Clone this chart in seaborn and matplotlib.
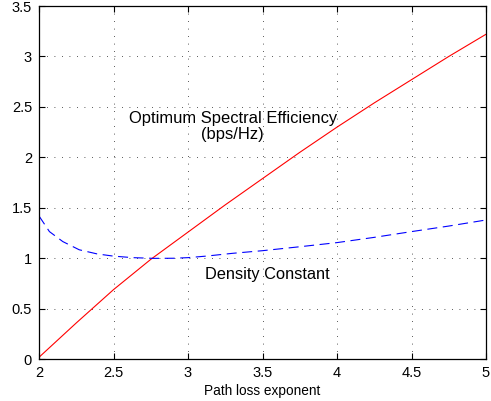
import numpy as np
import pandas as pd
import seaborn as sns
import matplotlib
matplotlib.use("Agg")
import matplotlib.pyplot as plt

# values
red_x = [2.0, 2.25, 2.5, 2.75, 3.0, 3.25, 3.5, 3.75, 4.0, 4.25, 4.5, 4.75, 5.0]
spectral_eff = [0.02, 0.36, 0.69, 0.99, 1.26, 1.53, 1.79, 2.05, 2.30, 2.54, 2.77, 3.00, 3.22]

blue_x = [2.0, 2.07, 2.16, 2.27, 2.39, 2.5, 2.63, 2.77, 2.9, 3.0, 3.12, 3.3, 3.5,
          3.75, 4.0, 4.25, 4.5, 4.75, 5.0]
density_const = [1.42, 1.265, 1.166, 1.085, 1.044, 1.022, 1.007, 1.0, 1.001, 1.007,
                 1.022, 1.05, 1.076, 1.115, 1.156, 1.208, 1.265, 1.32, 1.38]

x_ticks = [2, 2.5, 3, 3.5, 4, 4.5, 5]
y_ticks = [0, 0.5, 1, 1.5, 2, 2.5, 3, 3.5]
tick_labels_x = ["2", "2.5", "3", "3.5", "4", "4.5", "5"]
tick_labels_y = ["0", "0.5", "1", "1.5", "2", "2.5", "3", "3.5"]

sns.set_style("ticks")
plt.rcParams['font.family'] = ['Liberation Sans', 'DejaVu Sans']
plt.rcParams['text.color'] = 'black'
plt.rcParams['axes.labelcolor'] = 'black'

fig = plt.figure(figsize=(4.91, 4.01), dpi=100)
ax = fig.add_axes([39 / 491, 1 - 359.3 / 401, 447 / 491, 353.3 / 401])

red_df = pd.DataFrame({"x": red_x, "y": spectral_eff})
blue_df = pd.DataFrame({"x": blue_x, "y": density_const})

sns.lineplot(data=red_df, x="x", y="y", ax=ax, color="#ff0000", linewidth=0.8)
sns.lineplot(data=blue_df, x="x", y="y", ax=ax, color="#0000ff", linewidth=0.8,
             linestyle=(0, (9, 5)))

ax.set_xlim(2, 5)
ax.set_ylim(0, 3.5)
ax.set_xticks(x_ticks)
ax.set_xticklabels(tick_labels_x)
ax.set_yticks(y_ticks)
ax.set_yticklabels(tick_labels_y)

ax.grid(True, color="#222222", linewidth=0.6, linestyle=(0, (1, 8)))
ax.tick_params(direction="in", length=4, width=0.8, top=True, right=True,
               labelsize=10.5, colors="black", labelcolor="black", pad=5)
for s in ax.spines.values():
    s.set_visible(True)
    s.set_color("black")
    s.set_linewidth(0.9)

ax.set_xlabel("Path loss exponent", fontsize=9.8, labelpad=3, color="black")
ax.set_ylabel("")

ax.text(3.30, 2.31, "Optimum Spectral Efficiency\n(bps/Hz)", ha="center", va="center",
        fontsize=11.9, linespacing=1.1, color="black")
ax.text(3.53, 0.845, "Density Constant", ha="center", va="center", fontsize=11.8,
        color="black")

plt.savefig("out.png", dpi=100)
